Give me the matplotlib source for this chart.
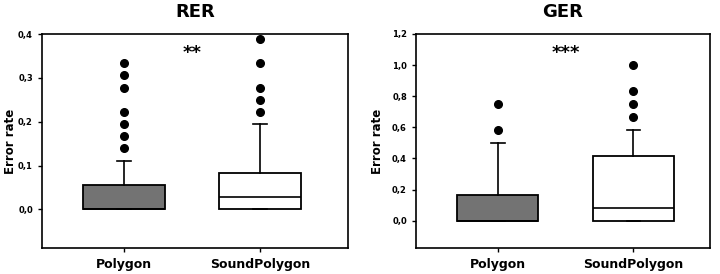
import matplotlib.pyplot as plt
from matplotlib.ticker import FuncFormatter

groups = ["Polygon", "SoundPolygon"]

# RER box statistics
rer_q3 = [0.0556, 0.0833]
rer_med = [0.0, 0.0278]
rer_whishi = [0.111, 0.194]
rer_fliers = [[0.139, 0.167, 0.194, 0.222, 0.278, 0.306, 0.333],
              [0.222, 0.25, 0.278, 0.333, 0.389]]

# GER box statistics
ger_q3 = [0.167, 0.417]
ger_med = [0.0, 0.0833]
ger_whishi = [0.5, 0.583]
ger_fliers = [[0.583, 0.75],
              [0.667, 0.75, 0.833, 1.0]]

colors = ["#737373", "white"]


def make_stats(q3, med, whishi, fliers):
    stats = []
    for i in range(len(q3)):
        stats.append({"q1": 0.0, "med": med[i], "q3": q3[i],
                      "whislo": 0.0, "whishi": whishi[i],
                      "fliers": fliers[i], "label": groups[i]})
    return stats


def comma(v, pos):
    return ("%.1f" % v).replace(".", ",")


fig = plt.figure(figsize=(7.2, 2.74), dpi=100)
ax1 = fig.add_axes([42 / 720, 1 - 248 / 274, 306 / 720, 214 / 274])
ax2 = fig.add_axes([416 / 720, 1 - 248 / 274, 294 / 720, 214 / 274])

panels = [
    (ax1, make_stats(rer_q3, rer_med, rer_whishi, rer_fliers), "RER",
     (-0.088, 0.4), [0, 0.1, 0.2, 0.3, 0.4], (0.397, 2.647), "**", 0.357, 1),
    (ax2, make_stats(ger_q3, ger_med, ger_whishi, ger_fliers), "GER",
     (-0.176, 1.2), [0, 0.2, 0.4, 0.6, 0.8, 1.0, 1.2], (0.397, 2.566), "***", 1.08, 6),
]

for ax, stats, title, ylim, yticks, xlim, star, stary, lpad in panels:
    bp = ax.bxp(stats, positions=[1, 2], widths=0.6, patch_artist=True,
                capwidths=0.1,
                boxprops=dict(linewidth=1.3, edgecolor="black"),
                medianprops=dict(color="black", linewidth=1.2),
                whiskerprops=dict(color="black", linewidth=1.2),
                capprops=dict(color="black", linewidth=1.2),
                flierprops=dict(marker="o", markerfacecolor="black",
                                markeredgecolor="black", markersize=5.5))
    for patch, c in zip(bp["boxes"], colors):
        patch.set_facecolor(c)
    ax.set_xlim(*xlim)
    ax.set_ylim(*ylim)
    ax.set_yticks(yticks)
    ax.yaxis.set_major_formatter(FuncFormatter(comma))
    ax.set_xticks([1, 2])
    ax.set_xticklabels(groups, fontsize=9, fontweight="bold")
    ax.tick_params(axis="y", labelsize=6, length=3, width=1, direction="out")
    ax.tick_params(axis="x", length=3, width=1, direction="out", pad=4)
    for lbl in ax.get_yticklabels():
        lbl.set_fontweight("bold")
    ax.set_ylabel("Error rate", fontsize=8.5, fontweight="bold", labelpad=lpad)
    ax.set_title(title, fontsize=13, fontweight="bold", pad=12)
    for s in ax.spines.values():
        s.set_linewidth(1.2)
    ax.text(1.5, stary, star, ha="center", va="center", fontsize=13,
            fontweight="bold")

fig.savefig("out.png", dpi=100)
